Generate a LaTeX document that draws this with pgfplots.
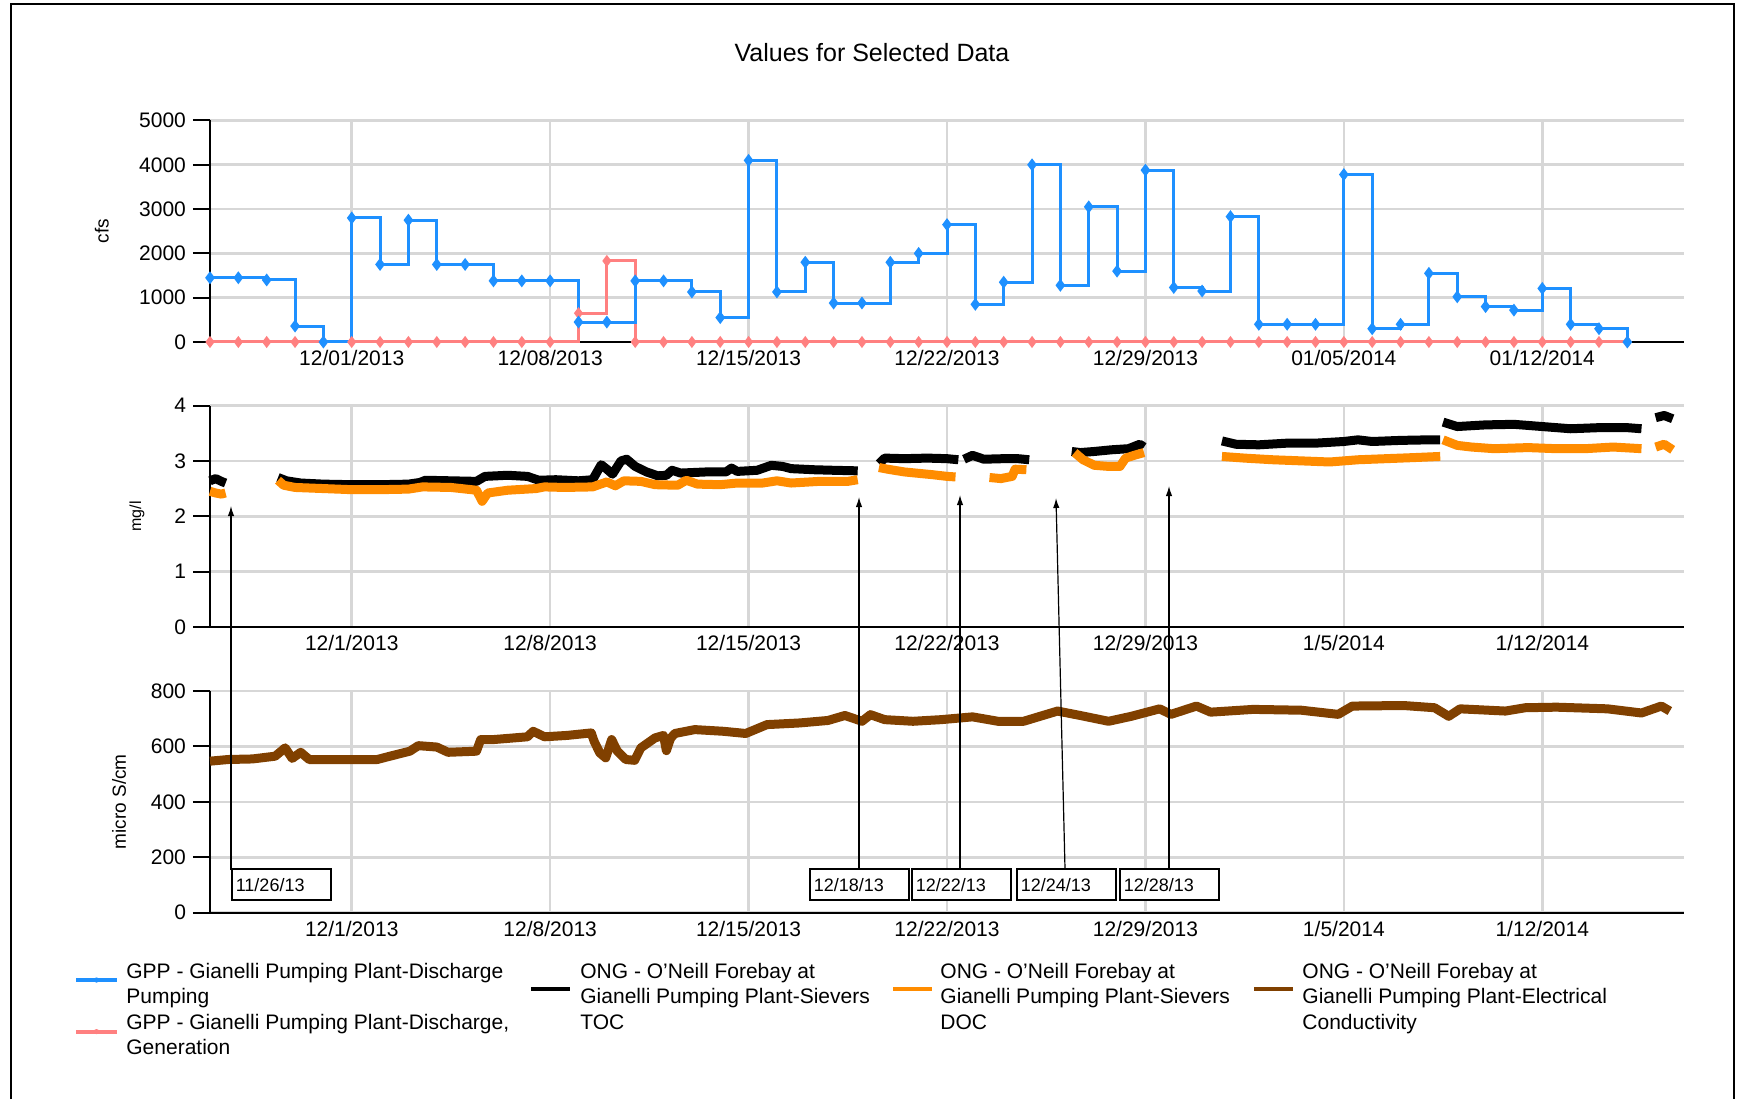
\documentclass[border=0pt]{standalone}
\usepackage{fontspec}
\setmainfont{Liberation Sans}
\usepackage{pgfplots}
\pgfplotsset{compat=1.18}
\usetikzlibrary{arrows.meta}
\definecolor{cBlue}{RGB}{30,144,255}
\definecolor{cRed}{RGB}{255,128,128}
\definecolor{cOrange}{RGB}{255,140,0}
\definecolor{cBrown}{RGB}{128,64,0}
\definecolor{cGrid}{RGB}{215,215,215}

\pgfplotsset{
  panel/.style={
    scale only axis, width=737pt, height=110.75pt,
    xmin=-5, xmax=47, xtick={0,7,14,21,28,35,42},
    axis x line*=bottom, axis y line*=left,
    axis line style={line width=1pt, black},
    grid=major, major grid style={line width=1.3pt, cGrid},
    tick align=outside, major tick length=8.5pt,
    x tick style={draw=none}, y tick style={line width=1pt, black},
    tick label style={font=\fontsize{10.5}{12}\selectfont, text=black},
    xticklabel style={yshift=7.8pt},
    /pgf/number format/assume math mode=true,
    /pgf/number format/1000 sep={},
    scaled y ticks=false,
    clip=false,
    unbounded coords=jump,
    every axis y label/.style={rotate=90, anchor=center},
  },
}

\begin{document}
\begin{tikzpicture}
\path[use as bounding box] (0,0) rectangle (871.5pt,549.5pt);
\draw[line width=1pt] (5.5pt,0) -- (5.5pt,547.25pt) -- (867pt,547.25pt) -- (867pt,0);
\node[font=\fontsize{12.5}{14}\selectfont] at (436pt,523pt) {Values for Selected Data};

% ---------------- top panel: discharge (cfs)
\begin{axis}[panel, at={(105pt,378.5pt)}, anchor=south west,
  ymin=0, ymax=5000, ytick={0,1000,2000,3000,4000,5000},
  xticklabels={12/01/2013,12/08/2013,12/15/2013,12/22/2013,12/29/2013,01/05/2014,01/12/2014},
  ylabel={cfs}, ylabel style={at={(axis description cs:-0.0733,0.5)}, font=\fontsize{9.5}{11}\selectfont}]
\addplot[const plot, color=cRed, line width=1.5pt, mark=diamond*, mark size=1.8pt] table {
x y
-5 0
-4 0
-3 0
-2 0
-1 0
0 0
1 0
2 0
3 0
4 0
5 0
6 0
7 0
8 650
9 1830
10 0
11 0
12 0
13 0
14 0
15 0
16 0
17 0
18 0
19 0
20 0
21 0
22 0
23 0
24 0
25 0
26 0
27 0
28 0
29 0
30 0
31 0
32 0
33 0
34 0
35 0
36 0
37 0
38 0
39 0
40 0
41 0
42 0
43 0
44 0
45 0
};
\addplot[const plot, color=cBlue, line width=1.5pt, mark=diamond*, mark size=2pt] table {
x y
-5 1450
-4 1450
-3 1400
-2 360
-1 0
0 2800
1 1750
2 2750
3 1750
4 1750
5 1380
6 1380
7 1380
8 450
9 450
10 1380
11 1380
12 1130
13 550
14 4100
15 1130
16 1800
17 880
18 880
19 1800
20 2000
21 2650
22 850
23 1350
24 4000
25 1280
26 3050
27 1600
28 3880
29 1230
30 1150
31 2830
32 400
33 400
34 400
35 3780
36 300
37 400
38 1550
39 1020
40 800
41 720
42 1210
43 400
44 300
45 0
};
\end{axis}

% ---------------- middle panel: TOC / DOC (mg/l)
\begin{axis}[panel, at={(105pt,236pt)}, anchor=south west,
  ymin=0, ymax=4, ytick={0,1,2,3,4},
  xticklabels={12/1/2013,12/8/2013,12/15/2013,12/22/2013,12/29/2013,1/5/2014,1/12/2014},
  ylabel={mg/l}, ylabel style={at={(axis description cs:-0.0495,0.5)}, font=\fontsize{8}{10}\selectfont}]
\addplot[color=black, line width=4.5pt, line join=round] table {
x y
-5.0 2.64
-4.8 2.68
-4.6 2.63
-4.45 2.60
nan nan
-2.6 2.70
-2.3 2.64
-1.8 2.60
-1.0 2.58
0 2.57
1.0 2.57
2.0 2.58
2.4 2.61
2.6 2.65
3.5 2.64
4.4 2.63
4.7 2.72
5.5 2.74
6.2 2.72
6.6 2.65
7.2 2.66
8.0 2.64
8.5 2.66
8.8 2.93
9.0 2.85
9.2 2.76
9.5 3.00
9.7 3.03
10.0 2.90
10.4 2.80
10.8 2.73
11.1 2.74
11.3 2.83
11.6 2.78
12.5 2.80
13.2 2.80
13.4 2.87
13.6 2.81
14.3 2.83
14.8 2.92
15.2 2.90
15.5 2.86
16.3 2.84
17.0 2.83
17.85 2.82
nan nan
18.6 2.95
18.8 3.05
19.5 3.04
20.3 3.05
21.0 3.04
21.4 3.02
nan nan
21.6 3.03
21.9 3.10
22.3 3.03
23.0 3.04
23.5 3.04
23.9 3.02
nan nan
25.4 3.17
25.7 3.15
26.2 3.17
26.8 3.20
27.4 3.22
27.8 3.30
27.95 3.25
nan nan
30.7 3.36
31.2 3.30
32.0 3.29
33.0 3.32
34.0 3.32
35.0 3.35
35.5 3.38
36.0 3.35
37.0 3.37
38.0 3.38
38.4 3.38
nan nan
38.5 3.70
39.0 3.62
40.0 3.65
41.0 3.66
42.0 3.62
43.0 3.58
44.0 3.60
45.0 3.60
45.5 3.58
nan nan
46.0 3.78
46.3 3.82
46.6 3.76
};
\addplot[color=cOrange, line width=4.5pt, line join=round] table {
x y
-5.0 2.45
-4.8 2.42
-4.6 2.40
-4.45 2.42
nan nan
-2.6 2.65
-2.4 2.56
-2.0 2.52
-1.0 2.50
0 2.48
1.0 2.48
2.0 2.49
2.5 2.53
3.5 2.52
4.4 2.47
4.6 2.27
4.8 2.42
5.5 2.47
6.5 2.50
6.8 2.53
7.5 2.52
8.5 2.53
9.0 2.62
9.3 2.55
9.6 2.64
10.2 2.63
10.7 2.57
11.5 2.56
11.8 2.65
12.2 2.58
13.0 2.57
13.6 2.60
14.5 2.60
15.0 2.64
15.5 2.60
16.5 2.63
17.5 2.63
17.85 2.66
nan nan
18.6 2.88
18.9 2.85
19.5 2.80
20.5 2.75
21.0 2.72
21.3 2.71
nan nan
22.5 2.70
22.9 2.68
23.3 2.72
23.4 2.85
23.8 2.84
nan nan
25.5 3.15
25.8 3.02
26.2 2.92
26.7 2.90
27.1 2.90
27.3 3.05
27.6 3.10
27.95 3.15
nan nan
30.7 3.08
31.5 3.05
32.5 3.02
33.5 3.00
34.5 2.98
35.5 3.02
36.5 3.04
37.5 3.06
38.4 3.08
nan nan
38.5 3.38
39.0 3.28
39.5 3.25
40.3 3.22
41.5 3.24
42.5 3.22
43.5 3.22
44.5 3.25
45.5 3.22
nan nan
46.0 3.25
46.3 3.30
46.6 3.20
};
\end{axis}

% ---------------- bottom panel: EC (micro S/cm)
\begin{axis}[panel, at={(105pt,93.2pt)}, anchor=south west,
  ymin=0, ymax=800, ytick={0,200,400,600,800},
  xticklabels={12/1/2013,12/8/2013,12/15/2013,12/22/2013,12/29/2013,1/5/2014,1/12/2014},
  ylabel={micro S/cm}, ylabel style={at={(axis description cs:-0.0617,0.5)}, font=\fontsize{9.5}{11}\selectfont}]
\addplot[color=cBrown, line width=4.5pt, line join=round] table {
x y
-5 547
-4.35 553
-3.5 555
-2.7 565
-2.35 595
-2.1 557
-1.8 579
-1.5 553
-0.7 553
0.9 553
1.35 565
2.05 583
2.35 603
3.0 598
3.4 579
4.4 583
4.55 625
5.0 625
6.2 635
6.4 655
6.8 635
7.6 640
8.45 649
8.55 619
8.75 577
8.96 559
9.17 625
9.37 583
9.67 553
9.98 550
10.2 595
10.7 631
11.0 640
11.1 585
11.25 630
11.4 647
12.1 661
13.1 655
13.9 647
14.65 679
15.8 685
16.8 694
17.4 712
18.0 691
18.3 715
18.8 697
19.8 691
20.8 697
21.9 707
22.8 691
23.7 691
24.9 728
25.7 712
26.7 691
27.5 709
28.5 736
28.9 716
29.8 746
30.3 724
31.8 734
33.5 731
34.8 716
35.3 746
37.1 748
38.2 740
38.7 709
39.1 736
40.7 728
41.4 740
42.5 742
44.3 736
45.5 721
46.2 746
46.5 728
};
\end{axis}

% ---------------- annotations
\begin{scope}[line width=0.6pt, font=\fontsize{9}{10}\selectfont]
\draw[-{Latex[length=5pt,width=3.2pt]}] (115.5pt,114.5pt) -- (115.5pt,296.5pt);
\draw[-{Latex[length=5pt,width=3.2pt]}] (429.5pt,115pt) -- (429.5pt,301pt);
\draw[-{Latex[length=5pt,width=3.2pt]}] (480pt,115pt) -- (480pt,302pt);
\draw[-{Latex[length=5pt,width=3.2pt]}] (532.5pt,115pt) -- (528pt,300.5pt);
\draw[-{Latex[length=5pt,width=3.2pt]}] (584.5pt,115pt) -- (584.5pt,306.5pt);
\foreach \bx/\lab in {115.5/11\slash 26\slash 13, 404.5/12\slash 18\slash 13, 455.5/12\slash 22\slash 13, 508/12\slash 24\slash 13, 559.5/12\slash 28\slash 13}{
  \node[draw, line width=0.8pt, fill=white, anchor=south west, minimum height=15.5pt,
        text width=45.5pt, inner xsep=2pt, inner ysep=0pt, align=left] at (\bx pt,99pt) {\lab};
}
\end{scope}

% ---------------- legend
\begin{scope}[font=\fontsize{10.5}{12}\selectfont]
\draw[cBlue, line width=2pt] (38pt,59.5pt) -- (58.5pt,59.5pt);
\fill[cBlue] (48.25pt,59.5pt) circle (1.3pt);
\node[anchor=base west, inner sep=0] at (63pt,60.5pt) {GPP - Gianelli Pumping Plant-Discharge};
\node[anchor=base west, inner sep=0] at (63pt,47.75pt) {Pumping};
\draw[cRed, line width=2pt] (38pt,33.7pt) -- (58.5pt,33.7pt);
\fill[cRed] (48.25pt,33.7pt) circle (1.3pt);
\node[anchor=base west, inner sep=0] at (63pt,35pt) {GPP - Gianelli Pumping Plant-Discharge,};
\node[anchor=base west, inner sep=0] at (63pt,22.2pt) {Generation};

\draw[black, line width=2pt] (265.5pt,55pt) -- (285pt,55pt);
\node[anchor=base west, inner sep=0] at (290pt,60.5pt) {ONG - O'Neill Forebay at};
\node[anchor=base west, inner sep=0] at (290pt,47.75pt) {Gianelli Pumping Plant-Sievers};
\node[anchor=base west, inner sep=0] at (290pt,35pt) {TOC};

\draw[cOrange, line width=2pt] (446.5pt,55pt) -- (466pt,55pt);
\node[anchor=base west, inner sep=0] at (470pt,60.5pt) {ONG - O'Neill Forebay at};
\node[anchor=base west, inner sep=0] at (470pt,47.75pt) {Gianelli Pumping Plant-Sievers};
\node[anchor=base west, inner sep=0] at (470pt,35pt) {DOC};

\draw[cBrown, line width=2pt] (627pt,55pt) -- (646.5pt,55pt);
\node[anchor=base west, inner sep=0] at (651pt,60.5pt) {ONG - O'Neill Forebay at};
\node[anchor=base west, inner sep=0] at (651pt,47.75pt) {Gianelli Pumping Plant-Electrical};
\node[anchor=base west, inner sep=0] at (651pt,35pt) {Conductivity};
\end{scope}
\end{tikzpicture}
\end{document}
